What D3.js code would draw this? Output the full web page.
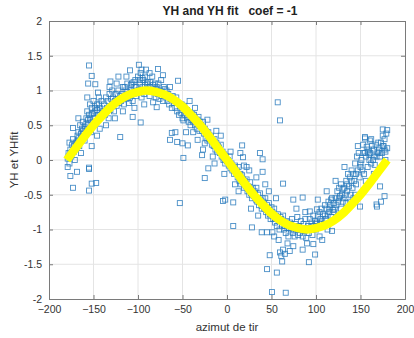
<!DOCTYPE html>
<html><head><meta charset="utf-8">
<script src="https://cdn.jsdelivr.net/npm/d3@7"></script>
<style>
html,body{margin:0;padding:0;background:#fff;}
svg text{font-family:"Liberation Sans",Arial,sans-serif;}
</style></head>
<body>
<svg id="chart" width="414" height="338"></svg>
<script>
// ---- data ----
const title = "YH and YH fit   coef = -1";
const xLabel = "azimut de tir";
const yLabel = "YH et YHfit";
const xTicks = [-200,-150,-100,-50,0,50,100,150,200];
const yTicks = [-2,-1.5,-1,-0.5,0,0.5,1,1.5,2];

// fitted curve
const fitAz = [-180,-170,-160,-150,-140,-130,-120,-110,-100,-90,-80,-70,-60,-50,-40,-30,-20,-10,0,10,20,30,40,50,60,70,80,90,100,110,120,130,140,150,160,170,180];
const fitYH = [0,0.17,0.34,0.5,0.64,0.77,0.87,0.94,0.98,1,0.98,0.94,0.87,0.77,0.64,0.5,0.34,0.17,0,-0.17,-0.34,-0.5,-0.64,-0.77,-0.87,-0.94,-0.98,-1,-0.98,-0.94,-0.87,-0.77,-0.64,-0.5,-0.34,-0.17,0];

// measured YH samples [azimut, YH]
const yhPoints = [
[-179,0.02],[-178,0.1],[-177,-0.05],[-176,0.15],[-175,0.05],[-174,0.22],[-173,0.3],[-172,0.12],[-171,0.0],[-170,0.18],[-179,-0.1],[-176,-0.23],[-173,-0.4],[-168.5,-0.17],[-173,0.46],[-177,0.25],
[-169,0.25],[-168,0.35],[-167,0.4],[-166,0.2],[-165,0.5],[-164,0.3],[-163,0.45],[-162,0.55],[-161,0.38],[-160,0.28],[-167,0.6],[-164,0.1],
[-159,0.45],[-158,0.6],[-157,0.7],[-156,0.5],[-155,0.65],[-154,0.8],[-153,0.4],[-152,0.75],[-151,0.55],[-150,0.85],[-157,0.9],[-155,-0.11],[-155,-0.44],[-152,-0.34],[-155,-0.13],[-152,0.2],[-155,1.36],[-152,1.21],[-156,1.1],
[-149,0.6],[-148,0.7],[-147,0.55],[-146,0.8],[-145,0.65],[-144,0.9],[-143,0.75],[-142,0.62],[-141,0.85],[-140,0.7],[-148,1.09],[-145,0.97],[-147,-0.33],[-146,0.35],[-143,0.45],
[-139,0.7],[-138,0.8],[-137,0.65],[-136,0.9],[-135,0.75],[-134,0.85],[-133,0.6],[-132,0.95],[-131,0.72],[-130,0.88],[-131,1.13],[-129,1.0],[-136,0.5],[-132,1.05],
[-129,0.8],[-128,0.9],[-127,0.7],[-126,0.85],[-125,0.95],[-124,0.78],[-123,0.88],[-122,1.0],[-121,0.82],[-120,0.92],[-122,1.2],[-120,0.33],[-126,0.6],[-124,1.1],
[-119,0.85],[-118,0.95],[-117,1.05],[-116,0.8],[-115,0.9],[-114,1.0],[-113,0.88],[-112,1.1],[-111,0.95],[-110,0.82],[-117,0.7],[-113,1.2],
[-109,0.9],[-108,1.0],[-107,1.1],[-106,0.85],[-105,0.95],[-104,1.05],[-103,1.15],[-102,0.92],[-101,1.0],[-100,1.2],[-109,1.29],[-106,0.62],[-104,0.75],
[-99,1.0],[-98,1.1],[-97,1.25],[-96,0.9],[-95,1.05],[-94,1.15],[-93,0.95],[-92,1.2],[-91,1.0],[-90,1.1],[-99,1.37],[-96,1.3],[-93,0.8],[-91,1.3],[-97,0.54],
[-89,1.0],[-88,1.05],[-87,0.92],[-86,1.12],[-85,0.98],[-84,1.2],[-83,0.83],[-82,1.0],[-81,1.1],[-80,0.9],[-79,0.76],[-87,1.25],[-77.5,1.31],
[-79,1.05],[-78,0.95],[-77,1.1],[-76,0.88],[-75,1.0],[-74,1.15],[-73,0.92],[-72,0.85],[-71,1.05],[-70,0.95],[-72,1.22],
[-69,0.9],[-68,1.0],[-67,0.85],[-66,0.95],[-65,0.8],[-64,1.05],[-63,0.88],[-62,0.75],[-61,0.92],[-60,0.82],[-64,0.29],[-62,0.39],
[-59,0.85],[-58,0.75],[-57,0.9],[-56,0.7],[-55,0.82],[-54,0.65],[-53,0.78],[-52,0.68],[-51,0.8],[-50,0.6],[-55,1.14],[-58,0.4],[-56,0.26],[-53,-0.62],[-49,0.57],[-49,0.03],[-50,0.24],
[-49,0.72],[-48,0.78],[-47,0.65],[-46,0.7],[-45,0.6],[-44,0.68],[-43,0.55],[-42,0.62],[-41,0.5],[-40,0.58],[-44,0.21],[-46,0.4],[-42,0.85],
[-39,0.6],[-38,0.55],[-37,0.65],[-36,0.5],[-35,0.58],[-34,0.45],[-33,0.52],[-32,0.62],[-31,0.42],[-30,0.5],[-33,0.29],[-36,0.75],[-38,0.4],
[-29,0.5],[-28,0.42],[-27,0.55],[-26,0.38],[-25,0.45],[-24,0.32],[-23,0.4],[-22,0.28],[-21,0.36],[-20,0.3],[-25,0.24],[-28,0.07],[-21,-0.12],[-25,-0.26],[-27,0.15],[-22,0.58],
[-19,0.3],[-18,0.35],[-17,0.22],[-16,0.28],[-15,0.2],[-14,0.3],[-13,0.15],[-12,0.25],[-11,0.12],[-10,0.2],[-16,0.05],[-12,0.42],[-14,-0.05],
[-9,0.18],[-8,0.1],[-7,0.22],[-6,0.05],[-5,0.12],[-4,0.0],[-3,0.08],[-2,-0.05],[-1,0.05],[0,-0.02],[-4.5,-0.59],[-2,-0.57],[-7,0.35],[-3,-0.2],
[1,0.0],[2,-0.08],[3,0.05],[4,-0.12],[5,-0.05],[6,-0.15],[7,-0.1],[8,-0.2],[9,-0.08],[10,-0.18],[7,-0.61],[7,-0.95],[4,0.12],[9,-0.35],
[11,-0.15],[12,-0.25],[13,-0.1],[14,-0.3],[15,-0.2],[16,-0.35],[17,-0.22],[18,-0.28],[19,-0.4],[20,-0.3],[17,0.21],[18,0.04],[13,-0.45],[15,0.1],[19,-0.08],
[21,-0.35],[22,-0.28],[23,-0.45],[24,-0.38],[25,-0.5],[26,-0.32],[27,-0.42],[28,-0.55],[29,-0.4],[30,-0.48],[28,-0.97],[22,-0.1],[25,-0.15],[27,-0.7],
[31,-0.45],[32,-0.55],[33,-0.4],[34,-0.6],[35,-0.5],[36,-0.65],[37,-0.48],[38,-0.58],[39,-0.7],[40,-0.55],[37,0.1],[40,0.01],[39,-1.04],[33,-0.25],[35,-0.8],[40,-0.17],
[41,-0.6],[42,-0.7],[43,-0.55],[44,-0.75],[45,-0.65],[46,-0.8],[47,-0.62],[48,-0.72],[49,-0.85],[50,-0.68],[45,-1.04],[51,-1.04],[48,-1.37],[45,-1.57],[50.5,-1.9],[43,-0.35],[47,-0.45],
[51,-0.75],[52,-0.85],[53,-0.7],[54,-0.9],[55,-0.8],[56,-0.95],[57,-0.78],[58,-0.88],[59,-1.0],[60,-0.82],[57,0.83],[59.5,0.57],[56,-1.62],[53,-1.1],[58,-1.15],[55,-0.55],
[61,-0.85],[62,-0.95],[63,-0.8],[64,-1.0],[65,-0.9],[66,-1.05],[67,-0.88],[68,-0.98],[69,-1.1],[70,-0.92],[62,-1.46],[59.5,-1.33],[65,-1.35],[63,-1.29],[66,-1.91],[63,-0.34],[68,-1.2],[61,-1.38],
[71,-0.9],[72,-1.0],[73,-0.85],[74,-1.05],[75,-0.95],[76,-1.1],[77,-0.92],[78,-1.0],[79,-0.82],[80,-1.08],[70.5,-1.31],[74.5,-1.24],[74.5,-0.57],[78,-0.7],
[81,-0.95],[82,-1.05],[83,-0.88],[84,-1.0],[85,-1.1],[86,-0.92],[87,-1.02],[88,-0.85],[89,-1.12],[90,-0.98],[85,-1.29],[85,-0.54],[88,-0.75],[90,-1.2],
[91,-0.95],[92,-1.05],[93,-0.85],[94,-1.0],[95,-0.9],[96,-1.08],[97,-0.8],[98,-0.95],[99,-0.88],[100,-1.0],[92,-1.47],[99,-1.36],[97,-1.21],[93,-0.74],
[101,-0.9],[102,-0.8],[103,-0.95],[104,-0.75],[105,-0.85],[106,-0.7],[107,-0.88],[108,-0.78],[109,-0.92],[110,-0.65],[101,-0.71],[102,-0.57],[104,-1.1],[107,-1.15],
[111,-0.85],[112,-0.7],[113,-0.8],[114,-0.6],[115,-0.75],[116,-0.65],[117,-0.82],[118,-0.55],[119,-0.72],[120,-0.62],[118,-1.02],[117,-0.57],[113,-1.0],[112,-0.45],
[121,-0.7],[122,-0.55],[123,-0.65],[124,-0.45],[125,-0.6],[126,-0.4],[127,-0.52],[128,-0.35],[129,-0.5],[130,-0.42],[125,-0.8],[128,-0.7],[122,-0.3],
[131,-0.55],[132,-0.4],[133,-0.5],[134,-0.3],[135,-0.45],[136,-0.2],[137,-0.38],[138,-0.25],[139,-0.5],[140,-0.15],[134,-0.62],[138,-0.6],[132,-0.1],
[141,-0.4],[142,-0.2],[143,-0.3],[144,-0.05],[145,-0.35],[146,0.05],[147,-0.15],[148,0.1],[149,-0.25],[150,-0.1],[149.5,-0.67],[144,-0.5],[147,0.2],[142,-0.55],
[151,0.0],[152,-0.15],[153,0.1],[154,-0.2],[155,0.31],[156,0.05],[157,0.19],[158,-0.1],[159,0.15],[160,0.0],[155,0.33],[160.5,0.28],[153,0.22],[158,0.12],[156,-0.3],
[161,0.1],[162,-0.05],[163,0.2],[164,0.0],[165,0.15],[166,-0.07],[167,0.22],[168,0.05],[169,0.12],[170,0.25],[168,-0.64],[162,0.3],[165,-0.2],[168.5,-0.67],
[171,0.15],[172,0.05],[173,0.25],[174,0.1],[175,0.44],[176,0.2],[177,0.3],[178,0.12],[179,0.38],[180,0.17],[172,-0.38],[177,-0.52],[173,-0.6],[175,0.35],[178,0.0],[180,0.43]
];
// extra samples in the dense band along the curve [azimut, YH]
const yhBandPoints = [
[-178,0.05],[-176,0.08],[-174,0.12],[-172,0.2],[-170,0.25],[-168,0.28],[-166,0.32],[-164,0.38],[-162,0.42],[-160,0.48],[-158,0.52],[-156,0.58],[-154,0.6],[-152,0.66],[-150,0.68],[-148,0.75],[-146,0.72],[-144,0.8],
[-115,1.05],[-112,0.98],[-108,1.08],[-105,1.12],[-102,1.05],[-98,1.15],[-95,1.18],[-92,1.08],[-89,1.12],[-86,1.05],[-83,1.08],[-80,1.02],[-77,1.0],[-74,0.98],[-70,1.02],
[-45,0.72],[-42,0.68],[-39,0.66],[-36,0.6],[-33,0.58],[-30,0.55],[-27,0.48],[-24,0.42],[-21,0.4],[-18,0.3],[-15,0.25],[-12,0.2],[-9,0.14],[-6,0.1],[-3,0.02],[0,0.0],
[3,-0.05],[6,-0.1],[9,-0.14],[12,-0.2],[15,-0.25],[18,-0.32],[21,-0.38],[24,-0.42],[27,-0.48],[30,-0.52],[33,-0.58],[36,-0.6],[39,-0.66],[42,-0.68],[45,-0.72],[48,-0.78],[51,-0.8],[54,-0.84],[57,-0.85],
[65,-0.95],[70,-0.98],[75,-1.0],[80,-0.95],[85,-0.98],[95,-0.95],[100,-0.92],[105,-0.9],[110,-0.8],[115,-0.7],[120,-0.75],
[126,-0.55],[130,-0.6],[135,-0.35],[140,-0.3],[145,-0.2],[150,-0.05],[155,0.1],[160,0.08],[165,0.05],[170,0.1],[175,0.2],[177,0.15]
];

// ---- layout ----
const svg = d3.select("#chart");
const L = 49, R = 405, T = 21, B = 299;
const x = d3.scaleLinear().domain([-200,200]).range([L,R]);
const y = d3.scaleLinear().domain([-2,2]).range([B,T]);
const axisCol = "#7a7a7a", textCol = "#333";

// grid
const grid = svg.append("g");
grid.selectAll(".gx").data(xTicks.slice(1,-1)).join("line")
  .attr("x1",d=>x(d)).attr("x2",d=>x(d)).attr("y1",T).attr("y2",B)
  .attr("stroke","#e4e4e4").attr("stroke-width",1);
grid.selectAll(".gy").data(yTicks.slice(1,-1)).join("line")
  .attr("x1",L).attr("x2",R).attr("y1",d=>y(d)).attr("y2",d=>y(d))
  .attr("stroke","#e4e4e4").attr("stroke-width",1);

// scatter
const mk = 5;
svg.append("g").selectAll("rect").data(yhPoints.concat(yhBandPoints)).join("rect")
  .attr("x",d=>x(d[0])-mk/2).attr("y",d=>y(d[1])-mk/2)
  .attr("width",mk).attr("height",mk)
  .attr("fill","none").attr("stroke","#2a7bbd").attr("stroke-width",0.9).attr("stroke-opacity",0.85);

// fit line
const fitLine = d3.line().x((d,i)=>x(fitAz[i])).y(d=>y(d)).curve(d3.curveCatmullRom);
svg.append("path").datum(fitYH).attr("d",fitLine)
  .attr("fill","none").attr("stroke","#ffff00").attr("stroke-width",8.5).attr("stroke-linejoin","round");

// axes (box with inward ticks)
const axB = d3.axisBottom(x).tickValues(xTicks).tickSize(-4).tickPadding(7).tickFormat(d3.format("d"));
const axT = d3.axisTop(x).tickValues(xTicks).tickSize(-4).tickFormat("");
const axL = d3.axisLeft(y).tickValues(yTicks).tickSize(-4).tickPadding(7).tickFormat(d=>String(d));
const axR = d3.axisRight(y).tickValues(yTicks).tickSize(-4).tickFormat("");
function styleAxis(sel){
  sel.selectAll("path,line").attr("stroke",axisCol);
  sel.selectAll("text").attr("fill",textCol).style("font-size","10.5px").style("font-family","'Liberation Sans',Arial,sans-serif");
}
svg.append("g").attr("transform",`translate(0,${B})`).call(axB).call(styleAxis);
svg.append("g").attr("transform",`translate(0,${T})`).call(axT).call(styleAxis);
svg.append("g").attr("transform",`translate(${L},0)`).call(axL).call(styleAxis);
svg.append("g").attr("transform",`translate(${R},0)`).call(axR).call(styleAxis);

// labels
svg.append("text").attr("x",230).attr("y",15).attr("text-anchor","middle")
  .attr("font-weight","bold").attr("font-size","12px").attr("fill","#222").style("white-space","pre").text(title);
svg.append("text").attr("x",(L+R)/2).attr("y",331).attr("text-anchor","middle")
  .attr("font-size","11.5px").attr("fill",textCol).text(xLabel);
svg.append("text").attr("transform",`translate(18,${(T+B)/2}) rotate(-90)`).attr("text-anchor","middle")
  .attr("font-size","11.5px").attr("fill",textCol).text(yLabel);
</script>
</body></html>
